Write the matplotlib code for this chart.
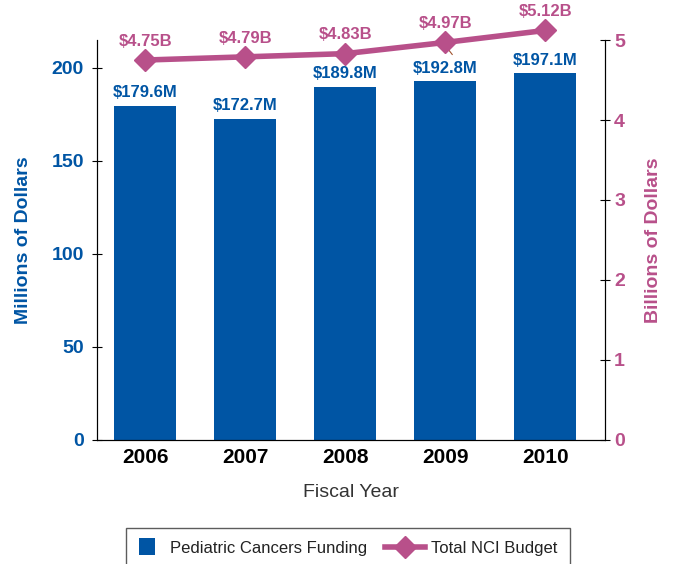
import matplotlib.pyplot as plt
import numpy as np
from matplotlib.legend_handler import HandlerPatch, HandlerLine2D
import matplotlib.patches as mpatches

years = ['2006', '2007', '2008', '2009', '2010']
pediatric = [179.6, 172.7, 189.8, 192.8, 197.1]
pediatric_labels = ['$179.6M', '$172.7M', '$189.8M', '$192.8M', '$197.1M']
nci_budget = [4.75, 4.79, 4.83, 4.97, 5.12]
nci_labels = ['$4.75B', '$4.79B', '$4.83B', '$4.97B', '$5.12B']

blue = '#0055A4'
pink = '#B8508A'
plt.rcParams['font.family'] = ['Liberation Sans', 'DejaVu Sans']


class SquareHandler(HandlerPatch):
    def create_artists(self, legend, orig_handle, xdescent, ydescent,
                       width, height, fontsize, trans):
        s = height * 1.5
        p = mpatches.Rectangle((-xdescent, -ydescent + height / 2 - s / 2), s * 0.9, s,
                               facecolor=orig_handle.get_facecolor(),
                               edgecolor='none', transform=trans)
        return [p]


class LongLineHandler(HandlerLine2D):
    # draw the line handle wider than the handle box, reaching to the left
    def create_artists(self, legend, orig_handle, xdescent, ydescent,
                       width, height, fontsize, trans):
        extra = 11
        return super().create_artists(legend, orig_handle, xdescent + extra, ydescent,
                                      width + extra, height, fontsize, trans)


fig = plt.figure(figsize=(6.8, 5.64), dpi=100)
ax = fig.add_axes([0.143, 0.22, 0.747, 0.709])
x = np.arange(len(years))

ax.bar(x, pediatric, width=0.62, color=blue, zorder=2)
for xi, v, lab in zip(x, pediatric, pediatric_labels):
    ax.text(xi, v + 3, lab, ha='center', va='bottom', color=blue,
            fontsize=12, fontweight='bold')

ax.set_xlim(-0.48, 4.6)
ax.set_ylim(0, 215)
ax.set_yticks([0, 50, 100, 150, 200])
ax.set_xticks(x)
ax.set_xticklabels(years)
ax.tick_params(axis='x', length=0, pad=6, labelsize=15)
for t in ax.get_xticklabels():
    t.set_fontweight('bold')
ax.tick_params(axis='y', direction='inout', length=7, colors='black', labelcolor=blue, labelsize=14, pad=6)
for t in ax.get_yticklabels():
    t.set_fontweight('bold')
ax.spines['top'].set_visible(False)
ax.set_ylabel('Millions of Dollars', color=blue, fontsize=14, fontweight='bold', labelpad=14)
ax.set_xlabel('Fiscal Year', fontsize=14, color='#333333', labelpad=12)

ax2 = ax.twinx()
line, = ax2.plot(x, nci_budget, color=pink, lw=4, marker='D', markersize=11,
                 clip_on=False, zorder=3)
for xi, v, lab in zip(x, nci_budget, nci_labels):
    ax2.text(xi, v + 0.14, lab, ha='center', va='bottom', color=pink,
             fontsize=12, fontweight='bold')
ax2.plot([3.02, 3.07], [4.90, 4.82], color='#A0522D', lw=0.8, clip_on=False)
ax2.set_ylim(0, 5)
ax2.set_yticks([0, 1, 2, 3, 4, 5])
ax2.tick_params(axis='y', direction='inout', length=7, colors='black', labelcolor=pink, labelsize=14, pad=3)
for t in ax2.get_yticklabels():
    t.set_fontweight('bold')
ax2.spines['top'].set_visible(False)
ax2.set_ylabel('Billions of Dollars', color=pink, fontsize=14, fontweight='bold', labelpad=14)

bar_handle = mpatches.Rectangle((0, 0), 1, 1, facecolor=blue)
leg = fig.legend([bar_handle, line], ['Pediatric Cancers Funding', 'Total NCI Budget'],
                 loc='lower center', bbox_to_anchor=(0.512, -0.022),
                 ncol=2, frameon=True, fancybox=False, fontsize=12, handlelength=1.5,
                 borderpad=0.75, columnspacing=2.0, handletextpad=0.35,
                 handler_map={mpatches.Rectangle: SquareHandler(),
                              line: LongLineHandler()})
leg.get_frame().set_edgecolor('#333333')
leg.get_frame().set_linewidth(1)
for t in leg.get_texts():
    t.set_color('#222222')

fig.savefig('out.png', dpi=100)
